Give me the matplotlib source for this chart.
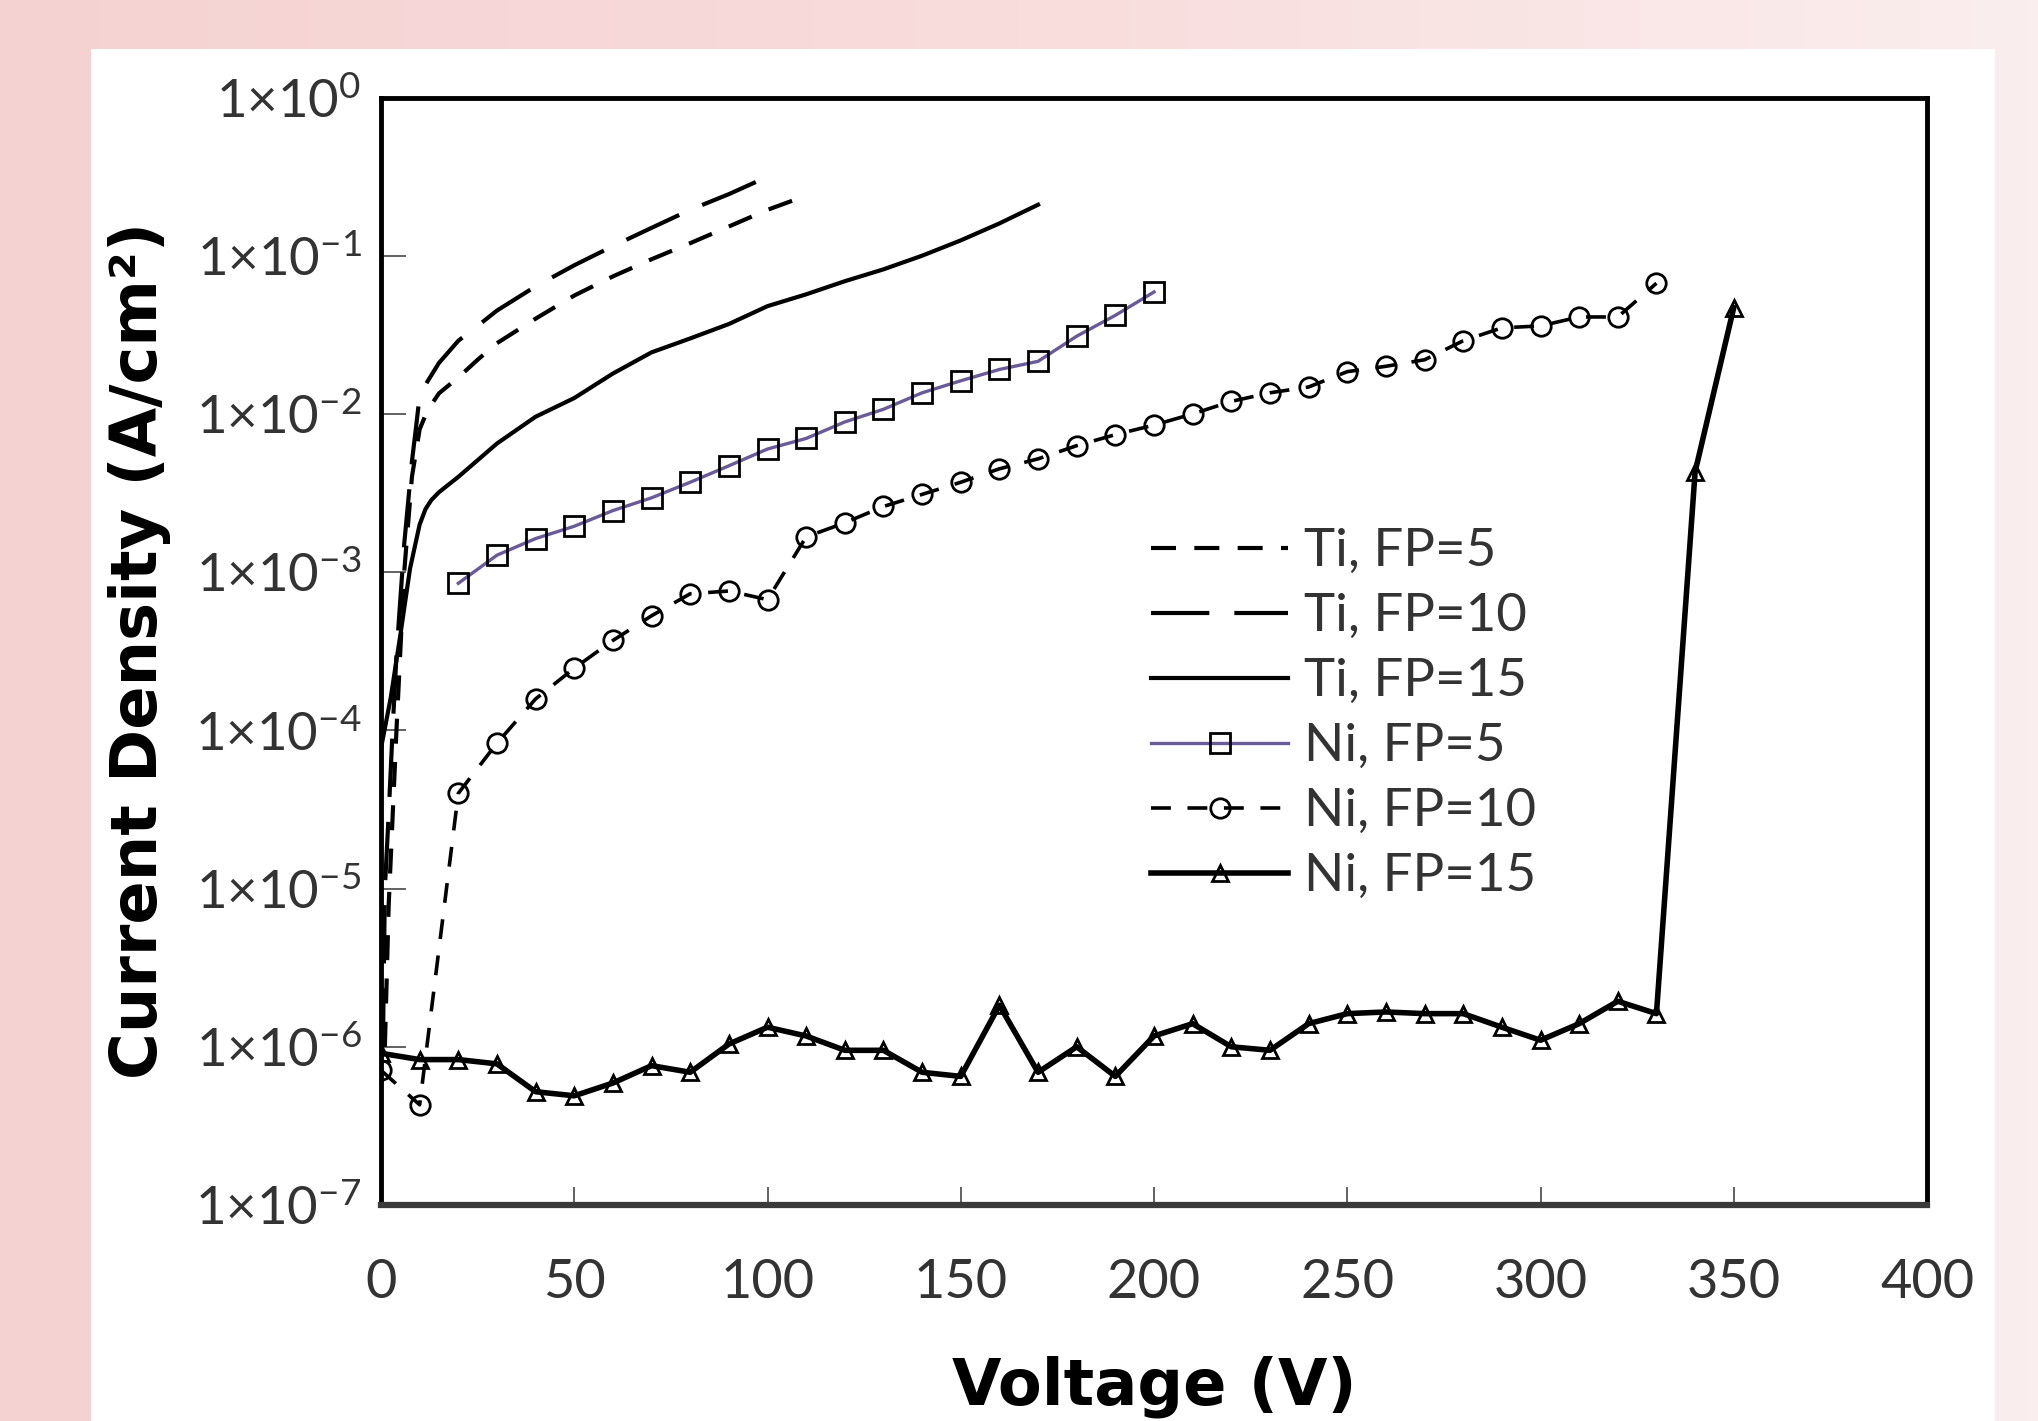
import numpy as np
import matplotlib
matplotlib.use('Agg')
import matplotlib.pyplot as plt
from matplotlib.patches import Rectangle
from matplotlib.colors import LinearSegmentedColormap

# Ti, FP=5 (curva sin marcadores)
v_ti5 = [1, 2, 4, 6, 8, 10, 12, 15, 20, 25, 30, 40, 50, 60, 70, 80, 90, 100, 108]
j_ti5 = [1e-6, 8e-6, 1e-4, 1e-3, 4e-3, 8e-3, 1.05e-2, 1.35e-2, 1.7e-2, 2.2e-2, 2.8e-2,
         4.0e-2, 5.6e-2, 7.4e-2, 9.5e-2, 1.2e-1, 1.53e-1, 1.95e-1, 2.3e-1]

# Ti, FP=10
v_ti10 = [0.5, 1, 2, 3, 4, 6, 8, 9, 10, 12, 15, 20, 25, 30, 40, 50, 60, 70, 80, 90, 98]
j_ti10 = [1e-6, 1e-5, 3e-5, 1e-4, 3e-4, 1.5e-3, 5e-3, 8e-3, 1.3e-2, 1.6e-2, 2.1e-2,
          2.9e-2, 3.6e-2, 4.5e-2, 6.4e-2, 8.7e-2, 1.15e-1, 1.5e-1, 1.95e-1, 2.45e-1, 3.0e-1]

# Ti, FP=15
v_ti15 = [0, 2.5, 5, 7.5, 10, 11.5, 13, 15, 20, 30, 40, 50, 60, 70, 80, 90, 100, 110, 120,
          130, 140, 150, 160, 170]
j_ti15 = [7.7e-5, 1.6e-4, 4e-4, 1.05e-3, 2.0e-3, 2.5e-3, 2.85e-3, 3.2e-3, 4.0e-3, 6.5e-3,
          9.6e-3, 1.26e-2, 1.8e-2, 2.45e-2, 3.0e-2, 3.7e-2, 4.8e-2, 5.7e-2, 6.9e-2, 8.2e-2,
          1.0e-1, 1.25e-1, 1.6e-1, 2.1e-1]

# Ni, FP=5 (cuadrados)
v_ni5 = [20, 30, 40, 50, 60, 70, 80, 90, 100, 110, 120, 130, 140, 150, 160, 170, 180, 190, 200]
j_ni5 = [8.5e-4, 1.28e-3, 1.63e-3, 1.95e-3, 2.45e-3, 2.95e-3, 3.7e-3, 4.7e-3, 6.0e-3, 7.0e-3,
         8.9e-3, 1.07e-2, 1.36e-2, 1.62e-2, 1.91e-2, 2.15e-2, 3.1e-2, 4.2e-2, 5.9e-2]

# Ni, FP=10 (circulos)
v_ni10 = [0, 10, 20, 30, 40, 50, 60, 70, 80, 90, 100, 110, 120, 130, 140, 150, 160, 170,
          180, 190, 200, 210, 220, 230, 240, 250, 260, 270, 280, 290, 300, 310, 320, 330]
j_ni10 = [7.1e-7, 4.3e-7, 4.0e-5, 8.3e-5, 1.58e-4, 2.47e-4, 3.7e-4, 5.3e-4, 7.3e-4, 7.6e-4,
          6.7e-4, 1.67e-3, 2.05e-3, 2.6e-3, 3.1e-3, 3.7e-3, 4.5e-3, 5.2e-3, 6.3e-3, 7.4e-3,
          8.5e-3, 1.0e-2, 1.2e-2, 1.36e-2, 1.48e-2, 1.85e-2, 2.0e-2, 2.2e-2, 2.9e-2, 3.5e-2,
          3.6e-2, 4.1e-2, 4.1e-2, 6.7e-2]

# Ni, FP=15 (triangulos)
v_ni15 = [0, 10, 20, 30, 40, 50, 60, 70, 80, 90, 100, 110, 120, 130, 140, 150, 160, 170,
          180, 190, 200, 210, 220, 230, 240, 250, 260, 270, 280, 290, 300, 310, 320, 330,
          340, 350]
j_ni15 = [9.1e-7, 8.3e-7, 8.3e-7, 7.8e-7, 5.2e-7, 4.9e-7, 5.9e-7, 7.6e-7, 6.9e-7, 1.04e-6,
          1.33e-6, 1.17e-6, 9.5e-7, 9.5e-7, 6.9e-7, 6.5e-7, 1.83e-6, 6.9e-7, 1.0e-6, 6.5e-7,
          1.17e-6, 1.4e-6, 1.0e-6, 9.5e-7, 1.4e-6, 1.62e-6, 1.66e-6, 1.62e-6, 1.62e-6, 1.33e-6,
          1.1e-6, 1.4e-6, 1.94e-6, 1.62e-6, 4.3e-3, 4.7e-2]

xticks = [0, 50, 100, 150, 200, 250, 300, 350, 400]
yticks = [1e-7, 1e-6, 1e-5, 1e-4, 1e-3, 1e-2, 1e-1, 1e0]
ylabels = [r'$\mathregular{1{\times}10^{%d}}$' % e for e in range(-7, 1)]

plt.rcParams['font.family'] = ['Lato', 'DejaVu Sans']

W, H = 2038, 1421
fig = plt.figure(figsize=(W / 100, H / 100), dpi=100)

# fondo rosado con panel blanco
fondo = fig.add_axes([0, 0, 1, 1], zorder=-10)
cmap = LinearSegmentedColormap.from_list('rosa', ['#f5d2d2', '#f9dcdc', '#fbeeee'])
fondo.imshow(np.linspace(0, 1, 256).reshape(1, -1), cmap=cmap, aspect='auto',
             extent=[0, 1, 0, 1])
fondo.add_patch(Rectangle((91 / W, 0), (1995 - 91) / W, (H - 49) / H,
                          transform=fondo.transAxes, facecolor='white', edgecolor='none'))
fondo.set_xlim(0, 1)
fondo.set_ylim(0, 1)
fondo.axis('off')

ax = fig.add_axes([381 / W, (H - 1205) / H, (1927 - 381) / W, (1205 - 97.5) / H])
ax.set_facecolor('white')

ax.plot(v_ti5, j_ti5, color='black', lw=3.0, ls=(0, (6, 4.4)), label='Ti, FP=5')
ax.plot(v_ti10, j_ti10, color='black', lw=3.0, ls=(0, (14, 6)), label='Ti, FP=10')
ax.plot(v_ti15, j_ti15, color='black', lw=3.0, label='Ti, FP=15')
ax.plot(v_ni5, j_ni5, color='#6a5a9a', lw=2.4, marker='s', ms=14, mfc='none',
        mec='black', mew=2.0, label='Ni, FP=5')
ax.plot(v_ni10, j_ni10, color='black', lw=2.6, ls=(0, (5.5, 4.6)), marker='o', ms=14,
        mfc='none', mec='black', mew=2.0, label='Ni, FP=10')
ax.plot(v_ni15, j_ni15, color='black', lw=4.0, marker='^', ms=12, mfc='none',
        mec='black', mew=2.0, label='Ni, FP=15')

ax.set_yscale('log')
ax.set_xlim(0, 400)
ax.set_ylim(1e-7, 1)
ax.set_xticks(xticks)
ax.set_xticklabels([str(t) for t in xticks])
ax.set_yticks(yticks)
ax.set_yticklabels(ylabels)
ax.minorticks_off()
ax.tick_params(axis='x', direction='in', length=13, width=1.3, color='#555555',
               labelsize=39, labelcolor='#333333', pad=38)
ax.tick_params(axis='y', direction='in', length=18, width=1.3, color='#555555',
               labelsize=38, labelcolor='#333333', pad=14)

for lado in ['top', 'right', 'left']:
    ax.spines[lado].set_linewidth(3.5)
    ax.spines[lado].set_color('black')
ax.spines['bottom'].set_linewidth(4.5)
ax.spines['bottom'].set_color('#3a3a3a')

leg = ax.legend(loc='upper left', bbox_to_anchor=(0.498, 0.611), frameon=False,
                fontsize=38, handlelength=2.6, handletextpad=0.3, labelspacing=0.34,
                borderpad=0, borderaxespad=0)
for t in leg.get_texts():
    t.set_color('#333333')

fig.text(140 / W, 1 - 650 / H, 'Current Density (A/cm²)', rotation=90, ha='center',
         va='center', family='DejaVu Sans', weight='bold', fontsize=46)
fig.text(1154 / W, 0.0118, 'Voltage (V)', ha='center', va='baseline',
         family='DejaVu Sans', weight='bold', fontsize=46)

plt.savefig('out.png', dpi=100)
